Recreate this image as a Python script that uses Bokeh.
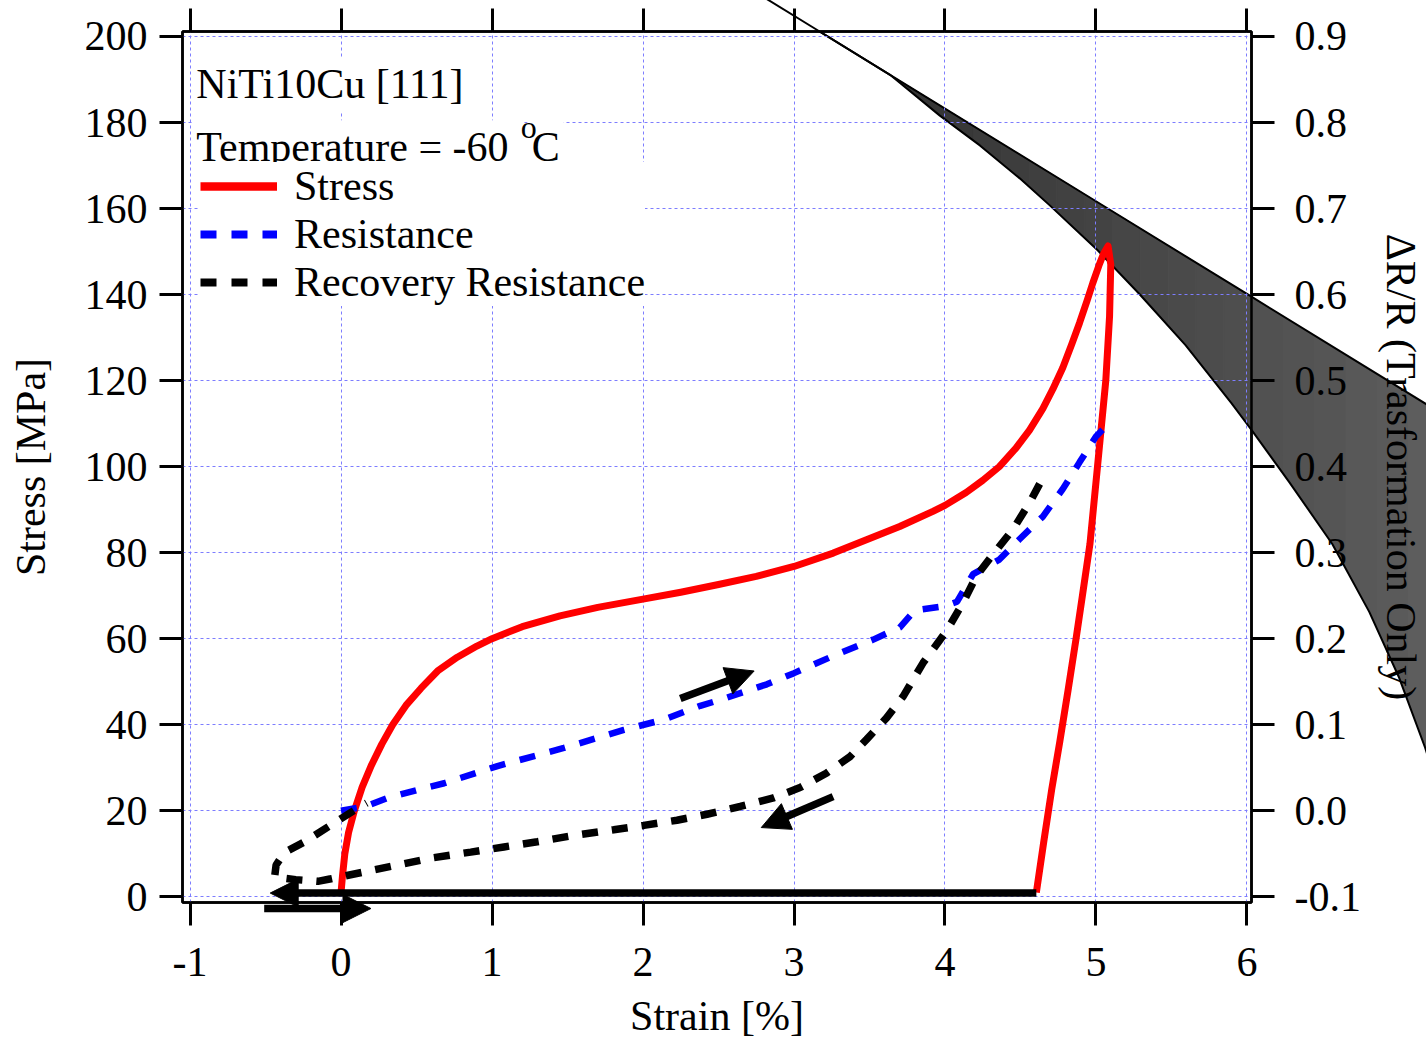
import numpy as np
from bokeh.plotting import figure
from bokeh.models import (Range1d, LinearAxis, SingleIntervalTicker, FixedTicker,
                          PrintfTickFormatter, Label, Legend, LegendItem)
from bokeh.embed import file_html
from bokeh.resources import INLINE

# ---------------------------------------------------------------- data
# Stress-strain loop: loading up to the peak, then unloading
stress_strain = [0.0, 0.01, 0.025, 0.05, 0.088, 0.14, 0.2, 0.27, 0.342, 0.43,
                 0.53, 0.64, 0.77, 0.9, 1.0, 1.2, 1.45, 1.7, 2.0, 2.25,
                 2.5, 2.75, 3.0, 3.26, 3.48, 3.7, 3.92, 4.0, 4.14, 4.25,
                 4.36, 4.47, 4.56, 4.648, 4.714, 4.78, 4.84, 4.891, 4.94, 4.979,
                 5.02, 5.05, 5.08,
                 5.098, 5.09, 5.065, 5.01, 4.96, 4.91, 4.868, 4.815, 4.76, 4.707,
                 4.655, 4.605]
stress_mpa = [1.0, 5.0, 10.0, 15.0, 20.0, 25.5, 30.5, 35.5, 40.0, 44.5,
              48.5, 52.5, 55.7, 58.3, 60.0, 62.8, 65.3, 67.3, 69.2, 70.8,
              72.6, 74.5, 76.8, 79.9, 83.0, 86.1, 89.6, 91.0, 94.0, 96.8,
              100.0, 104.3, 108.5, 113.5, 118.0, 123.0, 128.5, 133.4, 138.5, 142.7,
              146.8, 149.5, 151.3,
              147.0, 135.0, 120.0, 100.0, 82.0, 70.0, 60.0, 48.0, 36.0, 25.0,
              13.0, 1.0]

# Resistance change during loading (dR/R)
resist_strain = [0.0, 0.16, 0.309, 0.5, 0.683, 1.036, 1.476, 1.873, 2.137, 2.379,
                 2.512, 2.82, 3.0, 3.26, 3.525, 3.70, 3.80, 4.0, 4.08, 4.186,
                 4.36, 4.49, 4.648, 4.78, 4.891, 5.0, 5.10]
resist_dr = [0.000, 0.005, 0.015, 0.024, 0.032, 0.052, 0.073, 0.094, 0.106, 0.122,
             0.129, 0.147, 0.160, 0.180, 0.199, 0.213, 0.233, 0.238, 0.243, 0.275,
             0.292, 0.315, 0.342, 0.374, 0.405, 0.435, 0.453]

# Recovery resistance (dR/R) on the way back
recov_strain = [4.627, 4.56, 4.45, 4.318, 4.208, 4.12, 4.01, 3.855, 3.723, 3.613,
                3.481, 3.371, 3.217, 3.04, 2.864, 2.644, 2.424, 2.225, 2.005, 1.806,
                1.564, 1.30, 1.079, 0.859, 0.595, 0.375, 0.154, -0.066, -0.154, -0.30,
                -0.44, -0.43, -0.40, -0.36, -0.24, -0.07, 0.11, 0.17]
recov_dr = [0.380, 0.358, 0.327, 0.298, 0.273, 0.242, 0.209, 0.172, 0.133, 0.108,
            0.083, 0.063, 0.044, 0.027, 0.015, 0.005, -0.004, -0.011, -0.017, -0.022,
            -0.028, -0.036, -0.042, -0.048, -0.055, -0.063, -0.071, -0.079, -0.082, -0.080,
            -0.077, -0.063, -0.055, -0.047, -0.036, -0.017, 0.003, 0.009]

# Transformation-only dR/R band: upper and lower edges
band_upper_strain = [2.644, 3.636, 5.0, 6.035, 7.337]
band_upper_dr = [0.9625, 0.8555, 0.7085, 0.597, 0.4565]
band_lower_strain = [2.644, 3.636, 3.966, 4.231, 4.495, 4.694, 5.011, 5.289, 5.593,
                     5.897, 6.036, 6.280, 6.565, 6.810, 7.008, 7.180, 7.273]
band_lower_dr = [0.9625, 0.8555, 0.808, 0.7734, 0.7351, 0.7037, 0.6515, 0.6004, 0.5412,
                 0.4738, 0.4413, 0.3821, 0.3101, 0.2312, 0.1546, 0.0733, 0.0211]

# Loading-direction arrows (strain, stress) from start to tip
arrow_x0 = [4.605, -0.509, 2.247, 3.259]
arrow_y0 = [0.88, -2.72, 46.1, 23.3]
arrow_x1 = [-0.469, 0.198, 2.736, 2.783]
arrow_y1 = [0.88, -2.72, 52.5, 16.1]

# ---------------------------------------------------------------- layout
W, H = 1426, 1041
ML, MR, MT, MB = 182, 173, 31, 138
X0, X1 = -1.05, 6.03
Y0, Y1 = -1.32, 201.16
DR_OFFSET, DR_SCALE = 20.0, 200.0          # dR/R = (stress - 20) / 200
FONT = "Liberation Serif"
FS = "42px"

PX = (W - ML - MR) / (X1 - X0)              # pixels per strain unit
PY = (H - MT - MB) / (Y1 - Y0)              # pixels per MPa

p = figure(width=W, height=H, x_range=Range1d(X0, X1), y_range=Range1d(Y0, Y1),
           output_backend="svg", toolbar_location=None,
           min_border_left=ML, min_border_right=MR, min_border_top=MT, min_border_bottom=MB,
           background_fill_color="white", border_fill_color="white",
           outline_line_color="black", outline_line_width=2.5)
p.extra_y_ranges = {"dr": Range1d((Y0 - DR_OFFSET) / DR_SCALE, (Y1 - DR_OFFSET) / DR_SCALE)}

x_ticker = SingleIntervalTicker(interval=1, num_minor_ticks=0)
y_ticker = SingleIntervalTicker(interval=20, num_minor_ticks=0)
dr_ticks = [-0.1, 0.0, 0.1, 0.2, 0.3, 0.4, 0.5, 0.6, 0.7, 0.8, 0.9]


def style_axis(ax, standoff, label_standoff=10):
    ax.axis_line_color = "black"
    ax.axis_line_width = 2.5
    ax.major_tick_out = 23
    ax.major_tick_in = 0
    ax.major_tick_line_width = 3
    ax.major_tick_line_color = "black"
    ax.minor_tick_out = 0
    ax.minor_tick_in = 0
    ax.major_label_text_font = FONT
    ax.major_label_text_font_size = FS
    ax.major_label_text_color = "black"
    ax.major_label_standoff = standoff
    ax.axis_label_text_font = FONT
    ax.axis_label_text_font_size = FS
    ax.axis_label_text_font_style = "normal"
    ax.axis_label_text_color = "black"
    ax.axis_label_standoff = label_standoff


xax = p.xaxis[0]
xax.ticker = x_ticker
xax.formatter = PrintfTickFormatter(format="%d")
xax.axis_label = "Strain [%]"
style_axis(xax, 22, 14)

yax = p.yaxis[0]
yax.ticker = y_ticker
yax.axis_label = "Stress [MPa]"
style_axis(yax, 12, 28)

top_ax = LinearAxis(ticker=x_ticker,
                    major_label_overrides={t: "" for t in range(-1, 7)})
style_axis(top_ax, 0, 0)
p.add_layout(top_ax, "above")

right_ax = LinearAxis(y_range_name="dr", ticker=FixedTicker(ticks=dr_ticks),
                      formatter=PrintfTickFormatter(format="%.1f"),
                      axis_label="ΔR/R (Trasformation Only)")
style_axis(right_ax, 20, 14)
p.add_layout(right_ax, "right")

for g in (p.xgrid[0], p.ygrid[0]):
    g.grid_line_color = "#7d7dff"
    g.grid_line_width = 1
    g.grid_line_dash = "3 3"
p.xgrid[0].ticker = x_ticker
p.ygrid[0].ticker = y_ticker

# ---------------------------------------------------------------- dR/R band
SPLIT = band_upper_strain[1]
DR_TOP = (Y1 - DR_OFFSET) / DR_SCALE
X_END = band_lower_strain[-1]


def band_poly(xa, xb):
    knots = [x for x in band_upper_strain + band_lower_strain if xa < x < xb]
    xs = np.array(sorted(set([xa, xb] + knots)))
    up = np.interp(xs, band_upper_strain, band_upper_dr)
    lo = np.interp(xs, band_lower_strain, band_lower_dr)
    return list(xs) + list(xs[::-1]), list(up) + list(lo[::-1])


def grey(x):
    t = (x - SPLIT) / (X_END - SPLIT)
    v = int(round(0x33 + t * (0x5e - 0x33)))
    return "#%02x%02x%02x" % (v, v, v)


# part inside the frame, shaded in strips (under the grid)
edges = list(np.linspace(SPLIT, X1, 14))
ixs, iys, icol = [], [], []
for a, b in zip(edges[:-1], edges[1:]):
    bx, by = band_poly(a, b)
    ixs.append(bx)
    iys.append(by)
    icol.append(grey(0.5 * (a + b)))
p.patches(ixs, iys, fill_color=icol, line_color=icol, line_width=1,
          y_range_name="dr", level="image")
p.line(band_upper_strain, band_upper_dr, line_color="black", line_width=2,
       y_range_name="dr", level="image")
p.line(band_lower_strain, band_lower_dr, line_color="black", line_width=2,
       y_range_name="dr", level="image")

# part running past the right edge: nested pieces that all start at the frame edge,
# widest first, so each narrower one paints a darker shade on top
out_edges = list(np.linspace(X1, X_END, 7))
oxs, oys, ocol = [], [], []
for i in range(len(out_edges) - 1, 0, -1):
    bx, by = band_poly(X1, out_edges[i])
    oxs.append(bx)
    oys.append(by)
    ocol.append(grey(0.5 * (out_edges[i - 1] + out_edges[i])))
p.patches(oxs, oys, fill_color=ocol, line_color=None,
          y_range_name="dr", level="guide")
for sx, sy in ((band_upper_strain, band_upper_dr), (band_lower_strain, band_lower_dr)):
    keep = [i for i, x in enumerate(sx) if x > X1]
    ex = [X1] + [sx[i] for i in keep]
    ey = [float(np.interp(X1, sx, sy))] + [sy[i] for i in keep]
    p.line(ex, ey, line_color="black", line_width=2, y_range_name="dr", level="guide")
x_top = float(np.interp(DR_TOP, band_upper_dr[::-1], band_upper_strain[::-1]))
p.line([band_upper_strain[0], x_top], [band_upper_dr[0], DR_TOP],
       line_color="black", line_width=2, y_range_name="dr", level="guide")

# ---------------------------------------------------------------- curves
stress_r = p.line(stress_strain, stress_mpa, line_color="red", line_width=7,
                  line_join="round")
resist_r = p.line(resist_strain, resist_dr, y_range_name="dr", line_color="blue",
                  line_width=6.5, line_dash="16 15")
recov_r = p.line(recov_strain, recov_dr, y_range_name="dr", line_color="black",
                 line_width=7.5, line_dash="16 14")

# ---------------------------------------------------------------- arrows
HEAD_L, HEAD_W, SHAFT = 28.0, 14.0, 7.5
seg_x0, seg_y0, seg_x1, seg_y1, head_xs, head_ys = [], [], [], [], [], []
for x0, y0, x1, y1 in zip(arrow_x0, arrow_y0, arrow_x1, arrow_y1):
    dx, dy = (x1 - x0) * PX, -(y1 - y0) * PY
    n = np.hypot(dx, dy)
    ux, uy = dx / n, dy / n
    bx, by = -HEAD_L * ux, -HEAD_L * uy            # tip -> base, screen px
    nx, ny = -uy * HEAD_W, ux * HEAD_W
    seg_x0.append(x0)
    seg_y0.append(y0)
    seg_x1.append(x1 + (bx + 2 * ux) / PX)
    seg_y1.append(y1 - (by + 2 * uy) / PY)
    head_xs.append([x1, x1 + (bx + nx) / PX, x1 + (bx - nx) / PX])
    head_ys.append([y1, y1 - (by + ny) / PY, y1 - (by - ny) / PY])
p.segment(seg_x0, seg_y0, seg_x1, seg_y1, line_color="black", line_width=SHAFT,
          line_cap="butt", level="overlay")
p.patches(head_xs, head_ys, fill_color="black", line_color="black", line_width=1,
          level="overlay")

# ---------------------------------------------------------------- text
p.add_layout(Label(x=-0.985, y=182.7, text="NiTi10Cu [111]", text_font=FONT,
                   text_font_size=FS, text_color="black", background_fill_color="white",
                   padding=4))
p.add_layout(Label(x=-0.985, y=168.0, text="Temperature = -60 ", text_font=FONT,
                   text_font_size=FS, text_color="black", background_fill_color="white",
                   padding=4))
p.add_layout(Label(x=1.236, y=168.0, text="C", text_font=FONT, text_font_size=FS,
                   text_color="black", background_fill_color="white", padding=4))
p.add_layout(Label(x=1.177, y=174.4, text="o", text_font=FONT, text_font_size="32px",
                   text_color="black", padding=2))

# legend swatches drawn a little heavier than the curves themselves
leg_stress = p.line([np.nan], [np.nan], line_color="red", line_width=8.5)
leg_resist = p.line([np.nan], [np.nan], line_color="blue", line_width=8, line_dash="16 15")
leg_recov = p.line([np.nan], [np.nan], line_color="black", line_width=8, line_dash="16 15")
legend = Legend(items=[LegendItem(label="Stress", renderers=[leg_stress]),
                       LegendItem(label="Resistance", renderers=[leg_resist]),
                       LegendItem(label="Recovery Resistance", renderers=[leg_recov])],
                location=(18, 596), orientation="vertical", glyph_width=77, glyph_height=40,
                label_height=40, label_standoff=17, padding=4, spacing=0, margin=0,
                label_text_font=FONT, label_text_font_size=FS, label_text_color="black",
                background_fill_color="white", background_fill_alpha=1.0,
                border_line_color=None)
p.add_layout(legend)

open("out.html", "w").write(file_html(p, INLINE))
